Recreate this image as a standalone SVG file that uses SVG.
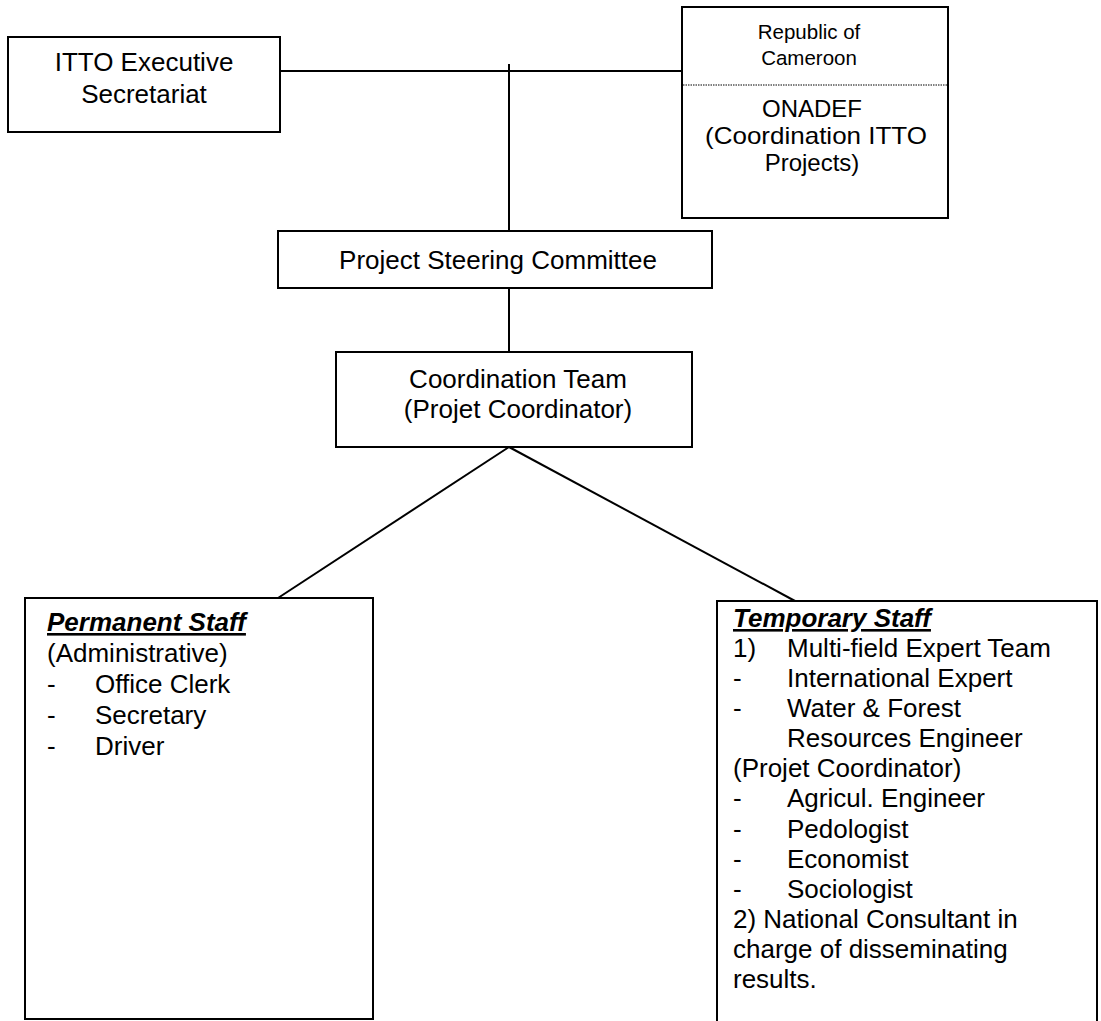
<svg xmlns="http://www.w3.org/2000/svg" width="1101" height="1021" viewBox="0 0 1101 1021">
<style>
.box{fill:#fff;stroke:#000;stroke-width:2}
.t{font-family:"Liberation Sans",Arial,sans-serif;font-size:26px;fill:#000}
.s{font-size:20.5px}
.m{font-size:24px}
.c{text-anchor:middle}
.h{font-weight:bold;font-style:italic;text-decoration:underline}
.conn line{stroke:#000;stroke-width:2}
</style>
<rect width="1101" height="1021" fill="#fff"/>
<g id="connectors" class="conn">
<line x1="280" y1="71" x2="682" y2="71"/>
<line x1="509" y1="64" x2="509" y2="231"/>
<line x1="509" y1="288" x2="509" y2="352"/>
<line x1="509" y1="447" x2="278" y2="598"/>
<line x1="509" y1="447" x2="795" y2="601"/>
</g>
<g id="itto">
<rect class="box" x="8" y="37" width="272" height="95"/>
<text class="t c" x="144" y="71">ITTO Executive</text>
<text class="t c" x="144" y="103">Secretariat</text>
</g>
<g id="cameroon">
<rect class="box" x="682" y="7" width="266" height="211"/>
<line x1="683" y1="85" x2="947" y2="85" stroke="#000" stroke-width="1" stroke-dasharray="1.5 1"/>
<text class="t s c" x="809" y="39">Republic of</text>
<text class="t s c" x="809" y="65">Cameroon</text>
<text class="t m c" x="812" y="117">ONADEF</text>
<text class="t m c" x="816" y="144" textLength="222" lengthAdjust="spacingAndGlyphs">(Coordination ITTO</text>
<text class="t m c" x="812" y="171">Projects)</text>
</g>
<g id="steering">
<rect class="box" x="278" y="231" width="434" height="57"/>
<text class="t c" x="498" y="269">Project Steering Committee</text>
</g>
<g id="coordination">
<rect class="box" x="336" y="352" width="356" height="95"/>
<text class="t c" x="518" y="388">Coordination Team</text>
<text class="t c" x="518" y="418">(Projet Coordinator)</text>
</g>
<g id="permanent">
<rect class="box" x="25" y="598" width="348" height="421"/>
<text class="t h" x="47" y="631">Permanent Staff</text>
<text class="t" x="47" y="662">(Administrative)</text>
<text class="t" x="47" y="693">-</text><text class="t" x="95" y="693">Office Clerk</text>
<text class="t" x="47" y="724">-</text><text class="t" x="95" y="724">Secretary</text>
<text class="t" x="47" y="755">-</text><text class="t" x="95" y="755">Driver</text>
</g>
<g id="temporary">
<rect class="box" x="717" y="601" width="380" height="440"/>
<text class="t h" x="733" y="627">Temporary Staff</text>
<text class="t" x="733" y="657">1)</text><text class="t" x="787" y="657">Multi-field Expert Team</text>
<text class="t" x="733" y="687">-</text><text class="t" x="787" y="687">International Expert</text>
<text class="t" x="733" y="717">-</text><text class="t" x="787" y="717">Water &amp; Forest</text>
<text class="t" x="787" y="747">Resources Engineer</text>
<text class="t" x="733" y="777">(Projet Coordinator)</text>
<text class="t" x="733" y="807">-</text><text class="t" x="787" y="807">Agricul. Engineer</text>
<text class="t" x="733" y="838">-</text><text class="t" x="787" y="838">Pedologist</text>
<text class="t" x="733" y="868">-</text><text class="t" x="787" y="868">Economist</text>
<text class="t" x="733" y="898">-</text><text class="t" x="787" y="898">Sociologist</text>
<text class="t" x="733" y="928">2) National Consultant in</text>
<text class="t" x="733" y="958">charge of disseminating</text>
<text class="t" x="733" y="988">results.</text>
</g>
</svg>
